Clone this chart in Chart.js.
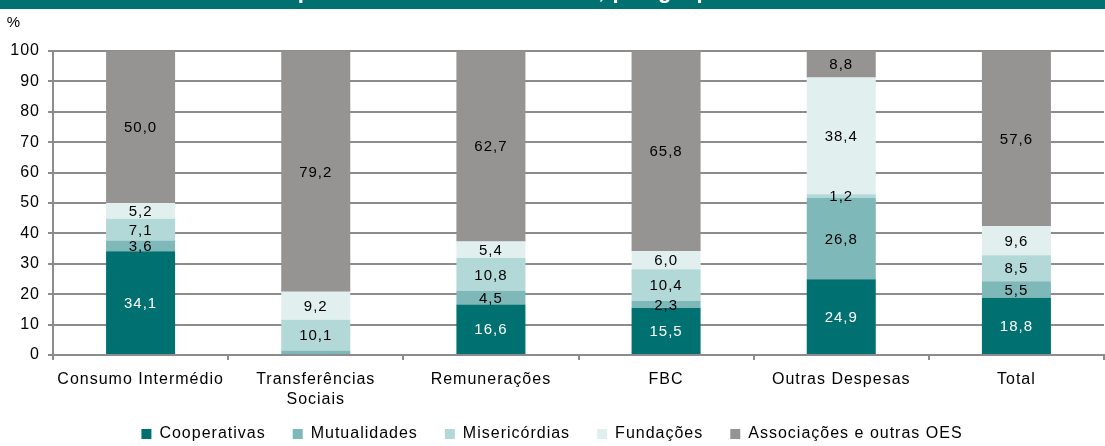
<!DOCTYPE html>
<html>
<head>
<meta charset="utf-8">
<script src="https://cdn.jsdelivr.net/npm/chart.js@4.4.1/dist/chart.umd.min.js"></script>
<style>
    html, body { margin: 0; padding: 0; background: #fff; }
    #wrap { position: relative; width: 1105px; height: 446px; }
</style>
</head>
<body>
<div id="wrap"><canvas id="chart" width="1105" height="446"></canvas></div>
<script>
const categories = [
    "Consumo Intermédio",
    ["Transferências", "Sociais"],
    "Remunerações",
    "FBC",
    "Outras Despesas",
    "Total"
];
const cooperativas = [34.1, 0, 16.6, 15.5, 24.9, 18.8];
const mutualidades = [3.6, 1.5, 4.5, 2.3, 26.8, 5.5];
const misericordias = [7.1, 10.1, 10.8, 10.4, 1.2, 8.5];
const fundacoes = [5.2, 9.2, 5.4, 6.0, 38.4, 9.6];
const associacoes = [50.0, 79.2, 62.7, 65.8, 8.8, 57.6];
const yTicks = [0, 10, 20, 30, 40, 50, 60, 70, 80, 90, 100];

const titleText = "Estrutura das despesas da Economia Social, por grupo de entidades";
const fontFamily = "\"Liberation Sans\", Arial, sans-serif";
const gridColor = "#8c8c8c";
const spacing = "1px";

// Excel spreads its letters a little; mimic that for every text on the canvas
const letterSpacing = {
    id: "letterSpacing",
    beforeInit(chart) { chart.ctx.letterSpacing = spacing; },
    beforeUpdate(chart) { chart.ctx.letterSpacing = spacing; },
    beforeDraw(chart) { chart.ctx.letterSpacing = spacing; },
    // legend sits closer to the axis than chart.js would put it
    afterLayout(chart) {
        const lg = chart.legend;
        if (!lg) return;
        lg.top = 399;
        lg.bottom = lg.top + lg.height;
    }
};

// value labels centred in each segment, hidden for thin slivers
const segmentLabels = {
    id: "segmentLabels",
    afterDatasetsDraw(chart) {
        const ctx = chart.ctx;
        ctx.save();
        ctx.font = "15px " + fontFamily;
        ctx.textAlign = "center";
        ctx.textBaseline = "middle";
        chart.data.datasets.forEach((ds, di) => {
            const meta = chart.getDatasetMeta(di);
            meta.data.forEach((bar, i) => {
                const v = ds.data[i];
                if (v < 1.15) return;
                if (di === 1 && i === 1) return;
                ctx.fillStyle = di === 0 ? "#ffffff" : "#000000";
                ctx.fillText(v.toFixed(1).replace(".", ","), bar.x, (bar.y + bar.base) / 2 + 1);
            });
        });
        ctx.restore();
    }
};

// clipped title banner and the % unit
const decorations = {
    id: "decorations",
    beforeDraw(chart) {
        const ctx = chart.ctx;
        ctx.save();
        ctx.fillStyle = "#ffffff";
        ctx.fillRect(0, 0, chart.width, chart.height);
        ctx.fillStyle = "#007070";
        ctx.fillRect(0, 0, chart.width, 9);
        ctx.beginPath();
        ctx.rect(0, 0, chart.width, 9);
        ctx.clip();
        ctx.fillStyle = "#ffffff";
        ctx.font = "bold 22px " + fontFamily;
        ctx.textAlign = "left";
        ctx.textBaseline = "alphabetic";
        ctx.fillText(titleText, 95, -2);
        ctx.restore();

        ctx.save();
        ctx.fillStyle = "#000000";
        ctx.font = "15px " + fontFamily;
        ctx.textAlign = "center";
        ctx.textBaseline = "middle";
        ctx.fillText("%", 14, 23);
        ctx.restore();
    }
};

function seg(label, data, color) {
    return {
        label: label,
        data: data,
        backgroundColor: color,
        borderWidth: 0,
        categoryPercentage: 1.0,
        barPercentage: 0.394
    };
}

new Chart(document.getElementById("chart"), {
    type: "bar",
    data: {
        labels: categories,
        datasets: [
            seg("Cooperativas", cooperativas, "#007070"),
            seg("Mutualidades", mutualidades, "#7fb8b8"),
            seg("Misericórdias", misericordias, "#b2d8d8"),
            seg("Fundações", fundacoes, "#e2efef"),
            seg("Associações e outras OES", associacoes, "#969492")
        ]
    },
    options: {
        responsive: false,
        animation: false,
        layout: { padding: { top: 51, right: 1, left: 0, bottom: -30 } },
        plugins: {
            legend: {
                position: "bottom",
                labels: {
                    boxWidth: 10,
                    boxHeight: 10,
                    padding: 27,
                    color: "#000000",
                    font: { size: 16, family: fontFamily }
                }
            },
            tooltip: { enabled: false }
        },
        scales: {
            x: {
                stacked: true,
                grid: {
                    offset: true,
                    drawOnChartArea: false,
                    color: gridColor,
                    lineWidth: 2,
                    tickLength: 5
                },
                border: { color: gridColor, width: 2 },
                ticks: {
                    color: "#000000",
                    padding: 10,
                    maxRotation: 0,
                    autoSkip: false,
                    font: { size: 16, family: fontFamily, lineHeight: 1.25 }
                },
                afterFit(scale) {
                    const legendH = scale.chart.legend ? scale.chart.legend.height : 0;
                    scale.height = scale.chart.height + 30 - legendH - 355;
                }
            },
            y: {
                stacked: true,
                min: 0,
                max: 100,
                afterBuildTicks(scale) {
                    scale.ticks = yTicks.map(v => ({ value: v }));
                },
                grid: {
                    color: gridColor,
                    lineWidth: 2,
                    tickLength: 5
                },
                border: { color: gridColor, width: 2 },
                ticks: {
                    color: "#000000",
                    padding: 8,
                    font: { size: 16, family: fontFamily }
                },
                afterFit(scale) {
                    scale.width = 53;
                }
            }
        }
    },
    plugins: [letterSpacing, decorations, segmentLabels]
});
</script>
</body>
</html>
